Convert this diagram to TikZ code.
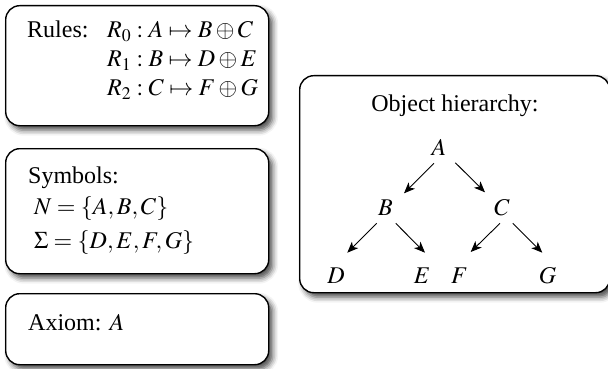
\documentclass[tikz,border=0pt]{standalone}
\usepackage{amsmath}
\usepackage{mathptmx}
\usepackage{fontspec}
\setmainfont{Liberation Serif}
\usepackage{tikz}
\usetikzlibrary{arrows.meta,shadows.blur}
\tikzset{
   panel/.style={draw=black, line width=1.4pt, rounded corners=14pt, fill=white, anchor=north west,
                 blur shadow={shadow xshift=4pt, shadow yshift=-4.5pt, shadow blur radius=5.5pt, shadow opacity=70}},
   txt/.style={anchor=base west, inner sep=0pt},
   sym/.style={anchor=base, inner sep=2pt},
   hier/.style={-{Stealth[length=11pt,width=9pt,inset=3pt]}, line width=0.9pt}
}

\begin{document}
\begin{tikzpicture}[x=1pt,y=-1pt,font=\fontsize{24}{28}\selectfont]
  \useasboundingbox (0,0) rectangle (608,369);
  % the four panels
  \node[panel, minimum width=263pt, minimum height=120pt] (rules) at (5,5) {};
  \node[panel, minimum width=263pt, minimum height=125pt] (symbols) at (5,148) {};
  \node[panel, minimum width=263pt, minimum height=71pt] (axiom) at (5,293) {};
  \node[panel, minimum width=310pt, minimum height=217pt] (tree) at (299,75) {};

  \node[txt] (rtitle) at (27,37.5) {Rules:};
  \node[txt] (r0) at (107,37.5) {$R_0 : A \mapsto B \oplus C$};
  \node[txt] (r1) at (107,66.5) {$R_1 : B \mapsto D \oplus E$};
  \node[txt] (r2) at (107,95.5) {$R_2 : C \mapsto F \oplus G$};

  \node[txt] (stitle) at (28,183) {Symbols:};
  \node[txt] (nonterm) at (34,214) {$N = \{A,B,C\}$};
  \node[txt] (term) at (34,248) {$\Sigma = \{D,E,F,G\}$};

  \node[txt] (ax) at (28,330) {Axiom: $A$};

  \node[anchor=base] (ttitle) at (455,111) {Object hierarchy:};
  \node[sym] (A) at (439,155) {$A$};
  \node[sym] (B) at (385.5,215) {$B$};
  \node[sym] (C) at (502,215) {$C$};
  \node[sym] (D) at (336,283) {$D$};
  \node[sym] (E) at (422,283) {$E$};
  \node[sym] (F) at (459.5,283) {$F$};
  \node[sym] (G) at (547.5,283) {$G$};
  \draw[hier] ([shift={(-5,8.3)}]A.base) -- ([shift={(18.5,-21.7)}]B.base);
  \draw[hier] ([shift={(16.3,7.7)}]A.base) -- ([shift={(-17,-22.7)}]C.base);
  \draw[hier] ([shift={(-8.8,8.3)}]B.base) -- ([shift={(11.3,-30.3)}]D.base);
  \draw[hier] ([shift={(10.2,8.3)}]B.base) -- ([shift={(3,-30.3)}]E.base);
  \draw[hier] ([shift={(-2,8.3)}]C.base) -- ([shift={(11.2,-31)}]F.base);
  \draw[hier] ([shift={(10.7,8.3)}]C.base) -- ([shift={(-5.2,-30.3)}]G.base);
\end{tikzpicture}
\end{document}
